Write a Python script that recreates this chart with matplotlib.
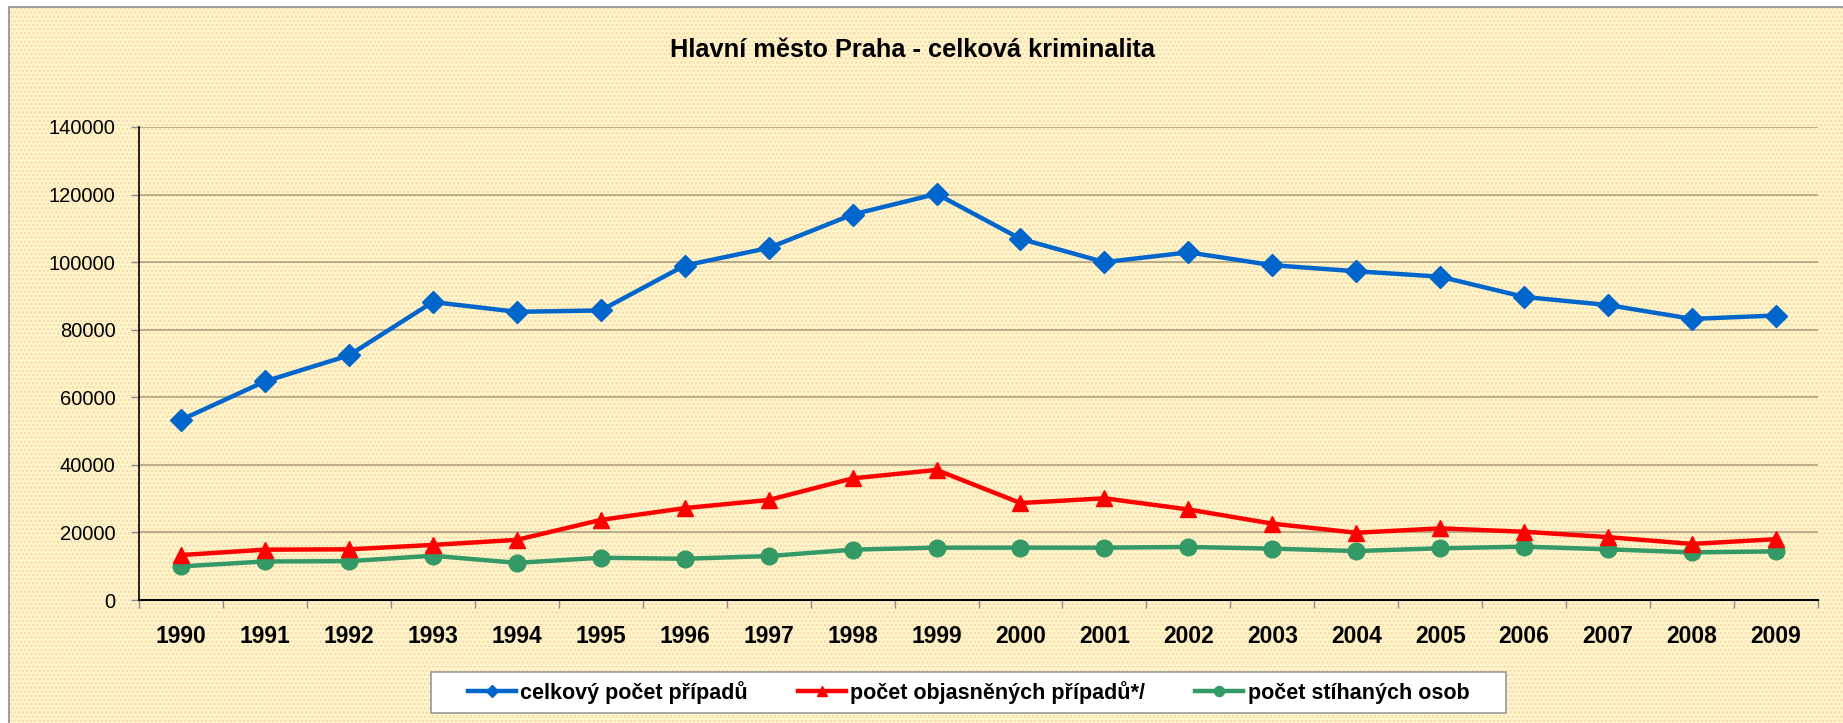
import matplotlib
matplotlib.use('Agg')
import matplotlib.pyplot as plt
from matplotlib.patches import Rectangle
import numpy as np

plt.rcParams['font.family'] = ['Liberation Sans', 'DejaVu Sans']

years = [str(y) for y in range(1990, 2010)]
celkem = [53300, 64700, 72400, 88200, 85300, 85700, 99000, 104200, 114100, 120200,
          106900, 100000, 102900, 99100, 97300, 95700, 89700, 87300, 83200, 84200]
objasneno = [13300, 14900, 15000, 16300, 17800, 23700, 27200, 29600, 36000, 38500,
             28700, 30100, 26800, 22600, 19900, 21200, 20200, 18600, 16600, 18000]
stihano = [9950, 11400, 11500, 13100, 11000, 12500, 12200, 13000, 14900, 15500,
           15500, 15500, 15700, 15200, 14500, 15300, 15800, 15000, 14100, 14400]
labels = ['celkový počet případů', 'počet objasněných případů*/', 'počet stíhaných osob']

W, H = 1843, 723
fig = plt.figure(figsize=(W / 100, H / 100), dpi=100, facecolor='white')

# chart area background with dotted texture
plt.rcParams['hatch.linewidth'] = 1.2
bg = Rectangle((9 / W, -0.1), 1.2, 1 - 7 / H + 0.1, transform=fig.transFigure,
               facecolor='#FFF6C9', edgecolor='#F8D8B0', hatch='....', lw=0, zorder=-10)
fig.patches.append(bg)
fig.patches.append(Rectangle((9 / W, -0.1), 1.2, 1 - 7 / H + 0.1, transform=fig.transFigure,
                             facecolor='none', edgecolor='#8C8C8C', lw=1.2, zorder=-9))

ax = fig.add_axes([139 / W, 1 - 600 / H, (1818 - 139) / W, (600 - 127) / H])
ax.set_facecolor('none')

x = np.arange(len(years))
ax.plot(x, celkem, color='#0066CC', lw=3.2, marker='D', ms=11, label=labels[0], zorder=5)
ax.plot(x, objasneno, color='#FF0000', lw=3.2, marker='^', ms=12, label=labels[1], zorder=4)
ax.plot(x, stihano, color='#339966', lw=3.2, marker='o', ms=12, label=labels[2], zorder=3)

ax.set_ylim(0, 140000)
ax.set_yticks(range(0, 140001, 20000))
ax.set_xlim(-0.5, len(years) - 0.5)
ax.set_xticks(np.arange(-0.5, len(years), 1))
ax.set_xticklabels([])
ax.set_xticks(x, minor=True)
ax.set_xticklabels(years, minor=True, fontsize=16.5, fontweight='bold')
ax.tick_params(axis='x', which='major', length=6, color='#8C8C8C', width=1)
ax.tick_params(axis='x', which='minor', length=0, pad=18)
ax.tick_params(axis='y', length=6, color='#8C8C8C', width=1, pad=11, labelsize=14.5)
ax.grid(axis='y', color='#A89A7C', lw=1.1)
ax.set_axisbelow(True)
for s in ['top', 'right']:
    ax.spines[s].set_visible(False)
ax.spines['left'].set_linewidth(1.2)
ax.spines['bottom'].set_linewidth(1.5)

fig.text(912 / W, 1 - 50 / H, 'Hlavní město Praha - celková kriminalita',
         ha='center', va='center', fontsize=18.3, fontweight='bold')

# legend box
fig.patches.append(Rectangle((431 / W, 1 - 713 / H), (1506 - 431) / W, 41 / H,
                             transform=fig.transFigure, facecolor='white',
                             edgecolor='#9A9A9A', lw=1.2, zorder=1))
leg = fig.legend(loc='center', bbox_to_anchor=(968.5 / W, 1 - 692.5 / H), ncol=3,
                 frameon=False, prop={'weight': 'bold', 'size': 15.5},
                 handlelength=2.25, handletextpad=0.2, columnspacing=2.3, markerscale=0.6)

fig.savefig('out.png', dpi=100, facecolor='white')
